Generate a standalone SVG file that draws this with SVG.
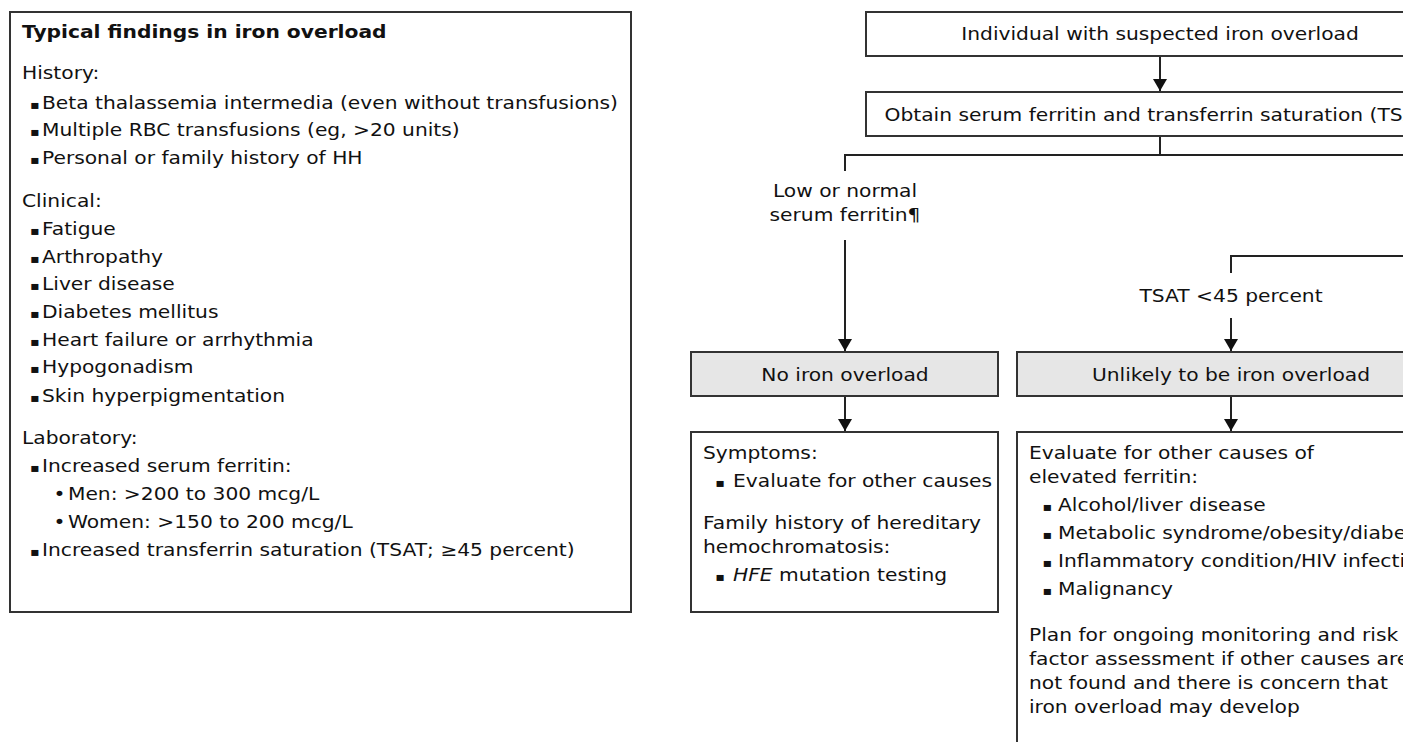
<svg xmlns="http://www.w3.org/2000/svg" width="1403" height="742" viewBox="0 0 1403 742">
<defs>
<marker id="ah" viewBox="0 0 12 14" refX="12" refY="7" markerWidth="12" markerHeight="14" markerUnits="userSpaceOnUse" orient="auto">
<path d="M0,0 L12,7 L0,14 z" fill="#111"/>
</marker>
<style>
.box{fill:#fff;stroke:#333;stroke-width:2}
.gbox{fill:#e6e6e6;stroke:#333;stroke-width:2}
.ln{fill:none;stroke:#222;stroke-width:2}
text{font-family:"DejaVu Sans","Verdana",sans-serif;font-size:17px;fill:#111}
.b{font-weight:bold}
.c{text-anchor:middle}
.bul{font-size:12px}
</style>
</defs>
<rect width="1403" height="742" fill="#fff"/>
<g id="findings">
<rect class="box" x="10" y="12" width="621" height="600"/>
<g transform="scale(1.19,1)">
<text class="b" x="18.5" y="38">Typical findings in iron overload</text>
<text x="18.5" y="79">History:</text>
<text y="109"><tspan class="bul" x="25.3">▪</tspan><tspan x="35.3">Beta thalassemia intermedia (even without transfusions)</tspan></text>
<text y="136"><tspan class="bul" x="25.3">▪</tspan><tspan x="35.3">Multiple RBC transfusions (eg, &gt;20 units)</tspan></text>
<text y="164"><tspan class="bul" x="25.3">▪</tspan><tspan x="35.3">Personal or family history of HH</tspan></text>
<text x="18.5" y="207">Clinical:</text>
<text y="235"><tspan class="bul" x="25.3">▪</tspan><tspan x="35.3">Fatigue</tspan></text>
<text y="263"><tspan class="bul" x="25.3">▪</tspan><tspan x="35.3">Arthropathy</tspan></text>
<text y="290"><tspan class="bul" x="25.3">▪</tspan><tspan x="35.3">Liver disease</tspan></text>
<text y="318"><tspan class="bul" x="25.3">▪</tspan><tspan x="35.3">Diabetes mellitus</tspan></text>
<text y="346"><tspan class="bul" x="25.3">▪</tspan><tspan x="35.3">Heart failure or arrhythmia</tspan></text>
<text y="373"><tspan class="bul" x="25.3">▪</tspan><tspan x="35.3">Hypogonadism</tspan></text>
<text y="402"><tspan class="bul" x="25.3">▪</tspan><tspan x="35.3">Skin hyperpigmentation</tspan></text>
<text x="18.5" y="444">Laboratory:</text>
<text y="472"><tspan class="bul" x="25.3">▪</tspan><tspan x="35.3">Increased serum ferritin:</tspan></text>
<text y="500"><tspan x="45">•</tspan><tspan x="57.1">Men: &gt;200 to 300 mcg/L</tspan></text>
<text y="528"><tspan x="45">•</tspan><tspan x="57.1">Women: &gt;150 to 200 mcg/L</tspan></text>
<text y="556"><tspan class="bul" x="25.3">▪</tspan><tspan x="35.3">Increased transferrin saturation (TSAT; ≥45 percent)</tspan></text>
</g>
</g>
<g id="connectors">
<line class="ln" x1="1160" y1="56" x2="1160" y2="91" marker-end="url(#ah)"/>
<path class="ln" d="M1160,136 V155"/>
<path class="ln" d="M845,171 V155 H1410"/>
<path class="ln" d="M1231,273 V256 H1410"/>
<line class="ln" x1="845" y1="240" x2="845" y2="351" marker-end="url(#ah)"/>
<line class="ln" x1="1231" y1="318" x2="1231" y2="351" marker-end="url(#ah)"/>
<line class="ln" x1="845" y1="397" x2="845" y2="431" marker-end="url(#ah)"/>
<line class="ln" x1="1231" y1="397" x2="1231" y2="431" marker-end="url(#ah)"/>
</g>
<g id="start">
<rect class="box" x="866" y="12" width="590" height="44"/>
<text class="c" transform="scale(1.19,1)" x="974.8" y="40">Individual with suspected iron overload</text>
</g>
<g id="obtain">
<rect class="box" x="866" y="92" width="590" height="44"/>
<text class="c" transform="scale(1.19,1)" x="974.8" y="121">Obtain serum ferritin and transferrin saturation (TSAT)</text>
</g>
<g id="lbl-low">
<text class="c" transform="scale(1.19,1)" x="710.1" y="197">Low or normal</text>
<text class="c" transform="scale(1.19,1)" x="710.1" y="221">serum ferritin¶</text>
</g>
<g id="lbl-tsat">
<text class="c" transform="scale(1.19,1)" x="1034.5" y="302">TSAT &lt;45 percent</text>
</g>
<g id="noiron">
<rect class="gbox" x="691" y="352" width="307" height="44"/>
<text class="c" transform="scale(1.19,1)" x="710.1" y="381">No iron overload</text>
</g>
<g id="unlikely">
<rect class="gbox" x="1017" y="352" width="430" height="44"/>
<text class="c" transform="scale(1.19,1)" x="1034.5" y="381">Unlikely to be iron overload</text>
</g>
<g id="symptoms">
<rect class="box" x="691" y="432" width="307" height="180"/>
<g transform="scale(1.19,1)">
<text x="590.8" y="459">Symptoms:</text>
<text y="487"><tspan class="bul" x="601">▪</tspan><tspan x="616">Evaluate for other causes</tspan></text>
<text x="590.8" y="529">Family history of hereditary</text>
<text x="590.8" y="553">hemochromatosis:</text>
<text y="581"><tspan class="bul" x="601">▪</tspan><tspan x="616" font-style="italic">HFE</tspan><tspan> mutation testing</tspan></text>
</g>
</g>
<g id="evaluate">
<rect class="box" x="1017" y="432" width="430" height="330"/>
<g transform="scale(1.19,1)">
<text x="864.7" y="459">Evaluate for other causes of</text>
<text x="864.7" y="483">elevated ferritin:</text>
<text y="511"><tspan class="bul" x="876">▪</tspan><tspan x="889.1">Alcohol/liver disease</tspan></text>
<text y="539"><tspan class="bul" x="876">▪</tspan><tspan x="889.1">Metabolic syndrome/obesity/diabetes</tspan></text>
<text y="567"><tspan class="bul" x="876">▪</tspan><tspan x="889.1">Inflammatory condition/HIV infection</tspan></text>
<text y="595"><tspan class="bul" x="876">▪</tspan><tspan x="889.1">Malignancy</tspan></text>
<text x="864.7" y="641">Plan for ongoing monitoring and risk</text>
<text x="864.7" y="665">factor assessment if other causes are</text>
<text x="864.7" y="689">not found and there is concern that</text>
<text x="864.7" y="713">iron overload may develop</text>
</g>
</g>
</svg>
